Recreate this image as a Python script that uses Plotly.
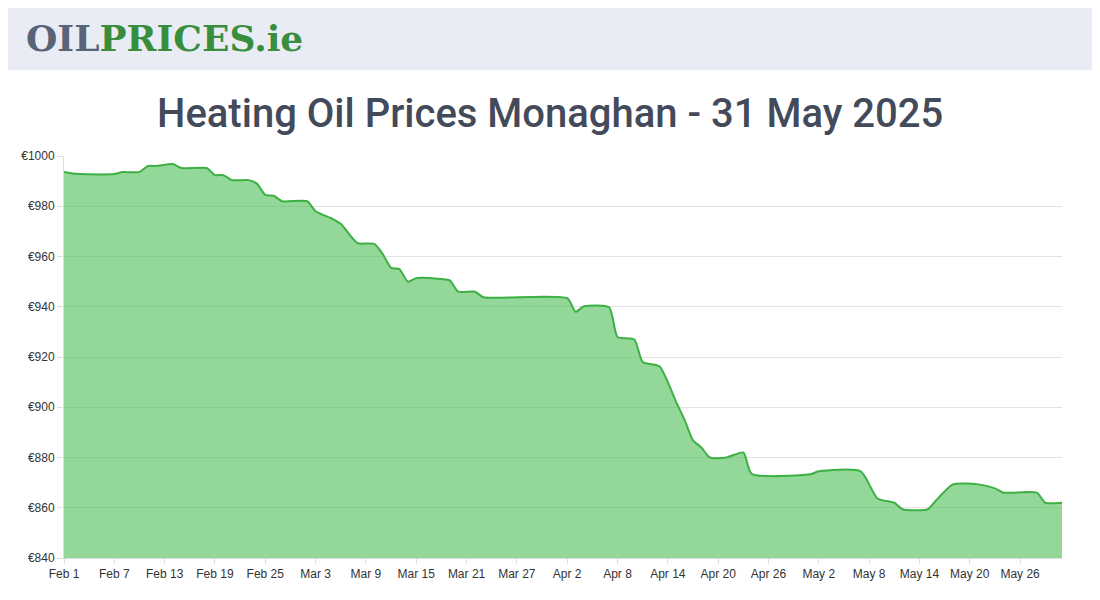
import plotly.graph_objects as go

dates = ["2025-02-01","2025-02-02","2025-02-03","2025-02-07","2025-02-08","2025-02-10","2025-02-11","2025-02-12",
 "2025-02-14","2025-02-15","2025-02-18","2025-02-19","2025-02-20","2025-02-21","2025-02-23","2025-02-24",
 "2025-02-25","2025-02-26","2025-02-27","2025-03-02","2025-03-03","2025-03-05","2025-03-06","2025-03-08",
 "2025-03-10","2025-03-11","2025-03-12","2025-03-13","2025-03-14","2025-03-15","2025-03-18","2025-03-19",
 "2025-03-20","2025-03-22","2025-03-23","2025-04-02","2025-04-03","2025-04-04","2025-04-07","2025-04-08",
 "2025-04-10","2025-04-11","2025-04-13","2025-04-14","2025-04-15","2025-04-16","2025-04-17","2025-04-18",
 "2025-04-19","2025-04-21","2025-04-23","2025-04-24","2025-05-01","2025-05-02","2025-05-07","2025-05-09",
 "2025-05-11","2025-05-12","2025-05-15","2025-05-16","2025-05-18","2025-05-21","2025-05-23","2025-05-24",
 "2025-05-28","2025-05-29","2025-05-31"]
prices = [993.6,993.0,992.8,992.8,993.6,993.6,996.0,996.0,
 996.8,995.2,995.2,992.4,992.4,990.4,990.4,989.0,
 984.5,984.2,982.0,982.0,978.0,975.0,973.0,965.3,
 965.0,961.0,955.5,955.0,950.0,951.4,951.0,950.5,
 946.0,946.0,943.8,943.4,938.0,940.2,939.8,928.0,
 927.0,918.0,916.3,910.0,902.0,895.0,886.8,884.0,
 880.0,880.0,882.0,873.5,873.3,874.5,874.5,863.7,
 862.0,859.4,859.4,863.0,869.3,869.3,867.7,866.0,
 866.0,862.0,862.0]
tick_dates = ["2025-02-01","2025-02-07","2025-02-13","2025-02-19","2025-02-25","2025-03-03","2025-03-09",
 "2025-03-15","2025-03-21","2025-03-27","2025-04-02","2025-04-08","2025-04-14","2025-04-20","2025-04-26",
 "2025-05-02","2025-05-08","2025-05-14","2025-05-20","2025-05-26"]
tick_labels = ["Feb 1","Feb 7","Feb 13","Feb 19","Feb 25","Mar 3","Mar 9","Mar 15","Mar 21","Mar 27",
 "Apr 2","Apr 8","Apr 14","Apr 20","Apr 26","May 2","May 8","May 14","May 20","May 26"]
y_ticks = [840,860,880,900,920,940,960,980,1000]

T, H = 148, 402
fig = go.Figure(go.Scatter(
    x=dates, y=prices, mode="lines", line=dict(color="#3cb043", width=2, shape="spline", smoothing=0.6),
    fill="tozeroy", fillcolor="rgba(80,190,90,0.62)", hoverinfo="x+y"))

fig.update_layout(
    width=1100, height=600, paper_bgcolor="white", plot_bgcolor="white",
    margin=dict(l=56, r=46, t=T, b=50), showlegend=False,
    font=dict(family="Liberation Sans, Arial", size=12, color="#444"),
    xaxis=dict(type="date", range=["2025-02-01", "2025-05-31"], tickvals=tick_dates,
               ticktext=tick_labels, showgrid=False, ticks="outside", ticklen=5, tickcolor="#ddd",
               showline=True, linecolor="#ddd", tickfont=dict(size=12, color="#333")),
    yaxis=dict(range=[840, 1000], tickvals=y_ticks, ticktext=["€"+str(v) for v in y_ticks],
               showgrid=True, gridcolor="#e2e2e2", ticks="outside", ticklen=6, tickcolor="#ddd",
               showline=True, linecolor="#ddd", tickfont=dict(size=12, color="#333"), zeroline=False),
)
fig.add_shape(type="rect", xref="paper", yref="paper", x0=-0.1, x1=1.1,
              y0=1 + (T - 62) / H, y1=1 + T / H, fillcolor="#e9ecf4", line_width=0, layer="below")
fig.add_annotation(xref="paper", yref="paper", x=-(56 - 16) / 998, y=1 + (T - 30) / H, xanchor="left",
                   yanchor="middle", showarrow=False,
                   text="<b><span style='color:#5a6478'>OIL</span><span style='color:#388e3c'>PRICES.ie</span></b>",
                   font=dict(family="DejaVu Serif", size=36))
fig.add_annotation(xref="paper", yref="paper", x=(542 - 56) / 998, y=1 + (T - 106) / H, xanchor="center",
                   yanchor="middle", showarrow=False, text="Heating Oil Prices Monaghan - 31 May 2025",
                   font=dict(family="Roboto", size=40, color="#434a5a", weight=500))
fig.write_html("out.html")
